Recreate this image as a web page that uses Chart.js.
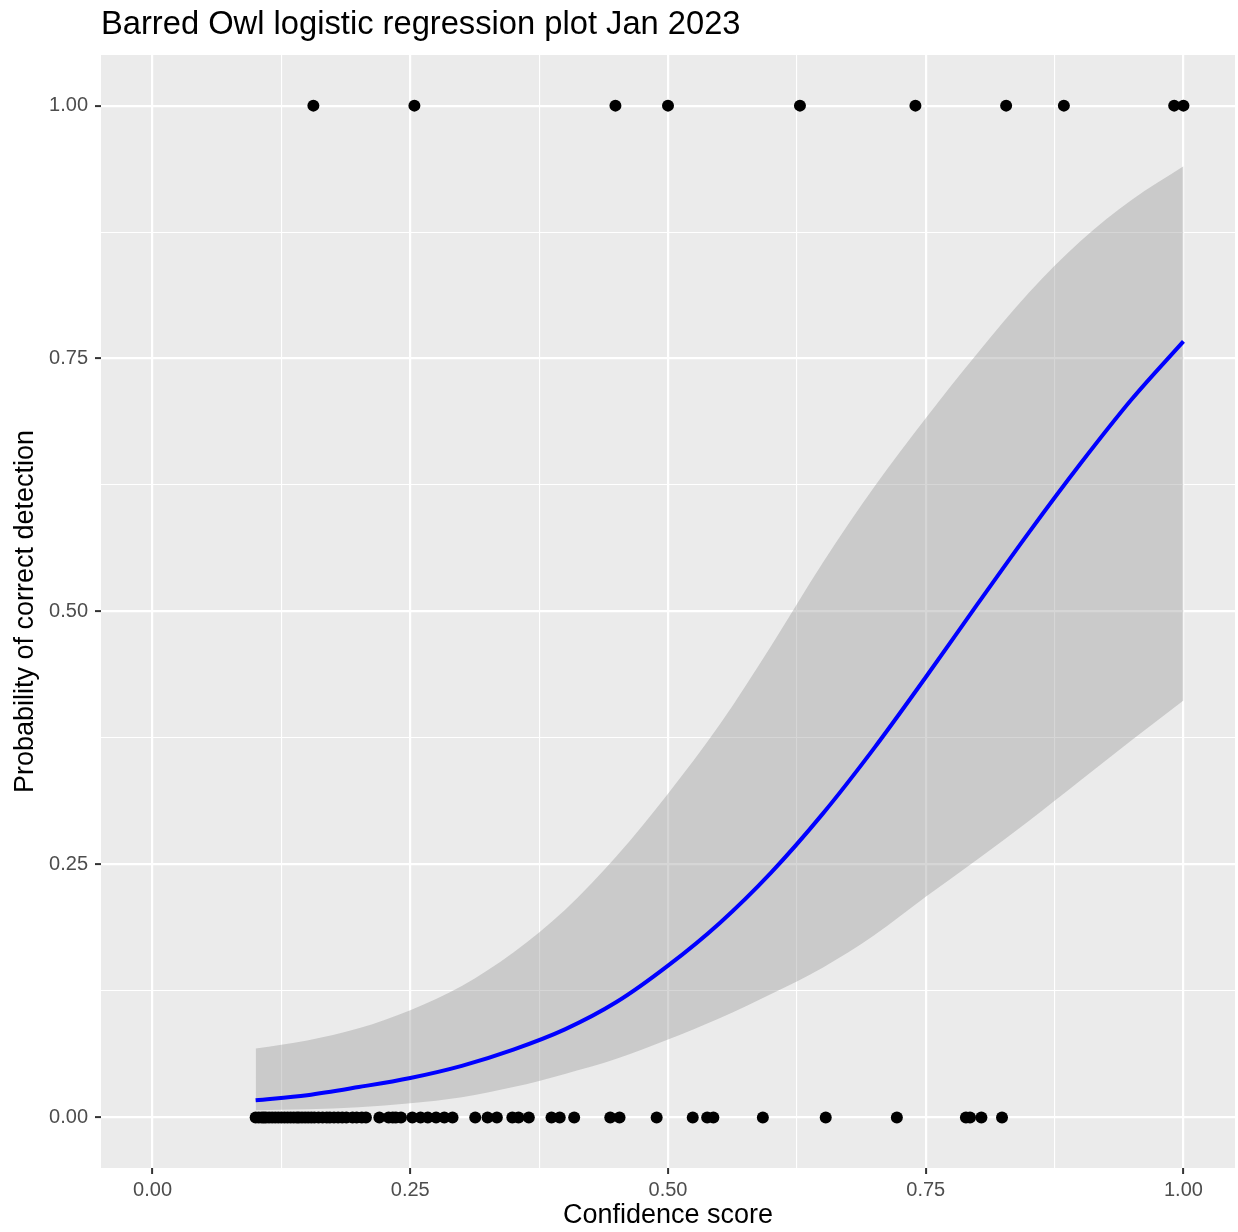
<!DOCTYPE html>
<html>
<head>
<meta charset="utf-8">
<script src="https://cdn.jsdelivr.net/npm/chart.js@4.4.0/dist/chart.umd.min.js"></script>
<style>
  html, body { margin: 0; padding: 0; background: #ffffff; }
  #wrap { width: 1238px; height: 1232px; }
</style>
</head>
<body>
<div id="wrap"><canvas id="c" width="1238" height="1232"></canvas></div>
<script>
// ---- Data ----
const titleText = "Barred Owl logistic regression plot Jan 2023";
const xTitle = "Confidence score";
const yTitle = "Probability of correct detection";

// Observations with outcome 1 (correct detection)
const correctX = [0.156, 0.254, 0.449, 0.500, 0.628, 0.740, 0.828, 0.884, 0.991, 1.000];

// Observations with outcome 0 (incorrect detection)
const incorrectX = [
  0.100, 0.103, 0.106, 0.108, 0.110, 0.113, 0.116, 0.119, 0.122, 0.125,
  0.128, 0.131, 0.134, 0.137, 0.140, 0.142, 0.145, 0.148, 0.151, 0.154,
  0.157, 0.161, 0.165, 0.169, 0.172, 0.176, 0.180, 0.184, 0.188, 0.194,
  0.198, 0.203, 0.207, 0.220, 0.229, 0.233, 0.236, 0.241, 0.252, 0.260,
  0.267, 0.275, 0.283, 0.291, 0.313, 0.325, 0.334, 0.349, 0.355, 0.365,
  0.387, 0.395, 0.409, 0.444, 0.453, 0.489, 0.524, 0.538, 0.544, 0.592,
  0.653, 0.722, 0.789, 0.793, 0.804, 0.824
];

// Fitted logistic curve and its confidence band
const curveX = [0.10, 0.15, 0.20, 0.25, 0.30, 0.35, 0.40, 0.45, 0.50, 0.55,
                0.60, 0.65, 0.70, 0.75, 0.80, 0.85, 0.90, 0.95, 1.00];
const fitY   = [0.017, 0.022, 0.030, 0.039, 0.051, 0.067, 0.087, 0.114, 0.150, 0.192,
                0.242, 0.300, 0.365, 0.435, 0.507, 0.578, 0.646, 0.710, 0.767];
const upperY = [0.068, 0.076, 0.088, 0.106, 0.130, 0.163, 0.205, 0.258, 0.320, 0.388,
                0.466, 0.548, 0.623, 0.691, 0.755, 0.815, 0.866, 0.907, 0.940];
const lowerY = [0.007, 0.008, 0.010, 0.014, 0.020, 0.030, 0.043, 0.058, 0.077, 0.098,
                0.122, 0.148, 0.180, 0.218, 0.255, 0.293, 0.333, 0.373, 0.412];

const axisMin = -0.05, axisMax = 1.05, gridStep = 0.125;

// ---- Build chart ----
const toPts = (xs, ys) => xs.map((x, i) => ({ x: x, y: ys[i] }));
const isMajor = v => Math.abs(v * 4 - Math.round(v * 4)) < 1e-6;

const panelBg = {
  id: 'panelBg',
  beforeDraw(chart) {
    const a = chart.chartArea, ctx = chart.ctx;
    ctx.save();
    ctx.fillStyle = '#EBEBEB';
    ctx.fillRect(a.left, a.top, a.right - a.left, a.bottom - a.top);
    ctx.restore();
  }
};

const FONT = "'Liberation Sans', Arial, Helvetica, sans-serif";

function axisCfg(isX) {
  return {
    type: 'linear',
    min: axisMin,
    max: axisMax,
    position: isX ? 'bottom' : 'left',
    border: { display: false },
    grid: {
      color: '#FFFFFF',
      lineWidth: ctx => isMajor(ctx.tick.value) ? 2.2 : 1.1,
      drawTicks: true,
      tickLength: 6,
      tickColor: ctx => isMajor(ctx.tick.value) ? '#333333' : 'rgba(0,0,0,0)',
      tickWidth: 2
    },
    ticks: {
      stepSize: gridStep,
      includeBounds: false,
      autoSkip: false,
      maxRotation: 0,
      minRotation: 0,
      padding: isX ? 4 : 7,
      color: '#4D4D4D',
      font: { family: FONT, size: 20 },
      callback: v => isMajor(v) ? v.toFixed(2) : ''
    },
    title: {
      display: true,
      text: isX ? xTitle : yTitle,
      color: '#000000',
      font: { family: FONT, size: 27 },
      padding: isX ? { top: 0, bottom: 0 } : { top: 9, bottom: 0 }
    },
    afterFit(scale) {
      if (isX) {
        scale.height = 64;
        scale.paddingLeft = 0;
        scale.paddingRight = 0;
      } else {
        scale.width = 101;
        scale.paddingTop = 0;
        scale.paddingBottom = 0;
      }
    }
  };
}

new Chart(document.getElementById('c'), {
  type: 'line',
  data: {
    datasets: [
      {
        label: 'lower',
        data: toPts(curveX, lowerY),
        borderWidth: 0,
        borderColor: 'rgba(0,0,0,0)',
        pointRadius: 0,
        fill: false,
        cubicInterpolationMode: 'monotone',
        order: 3
      },
      {
        label: 'upper',
        data: toPts(curveX, upperY),
        borderWidth: 0,
        borderColor: 'rgba(0,0,0,0)',
        backgroundColor: 'rgba(153,153,153,0.4)',
        pointRadius: 0,
        fill: '-1',
        cubicInterpolationMode: 'monotone',
        order: 3
      },
      {
        label: 'fit',
        data: toPts(curveX, fitY),
        borderColor: '#0000FF',
        borderWidth: 4,
        pointRadius: 0,
        fill: false,
        cubicInterpolationMode: 'monotone',
        order: 2
      },
      {
        label: 'incorrect',
        data: incorrectX.map(x => ({ x: x, y: 0 })),
        showLine: false,
        pointRadius: 6,
        pointBackgroundColor: '#000000',
        pointBorderWidth: 0,
        pointBorderColor: '#000000',
        order: 1
      },
      {
        label: 'correct',
        data: correctX.map(x => ({ x: x, y: 1 })),
        showLine: false,
        pointRadius: 6,
        pointBackgroundColor: '#000000',
        pointBorderWidth: 0,
        pointBorderColor: '#000000',
        order: 1
      }
    ]
  },
  options: {
    responsive: false,
    animation: false,
    layout: { autoPadding: false, padding: { left: 0, right: 3, top: 0, bottom: 0 } },
    plugins: {
      legend: { display: false },
      tooltip: { enabled: false },
      title: {
        display: true,
        text: titleText,
        align: 'start',
        fullSize: false,
        color: '#000000',
        font: { family: FONT, size: 32.7, weight: 'normal' },
        padding: { top: 5, bottom: 10.8 }
      }
    },
    scales: {
      x: axisCfg(true),
      y: axisCfg(false)
    }
  },
  plugins: [panelBg]
});
</script>
</body>
</html>
